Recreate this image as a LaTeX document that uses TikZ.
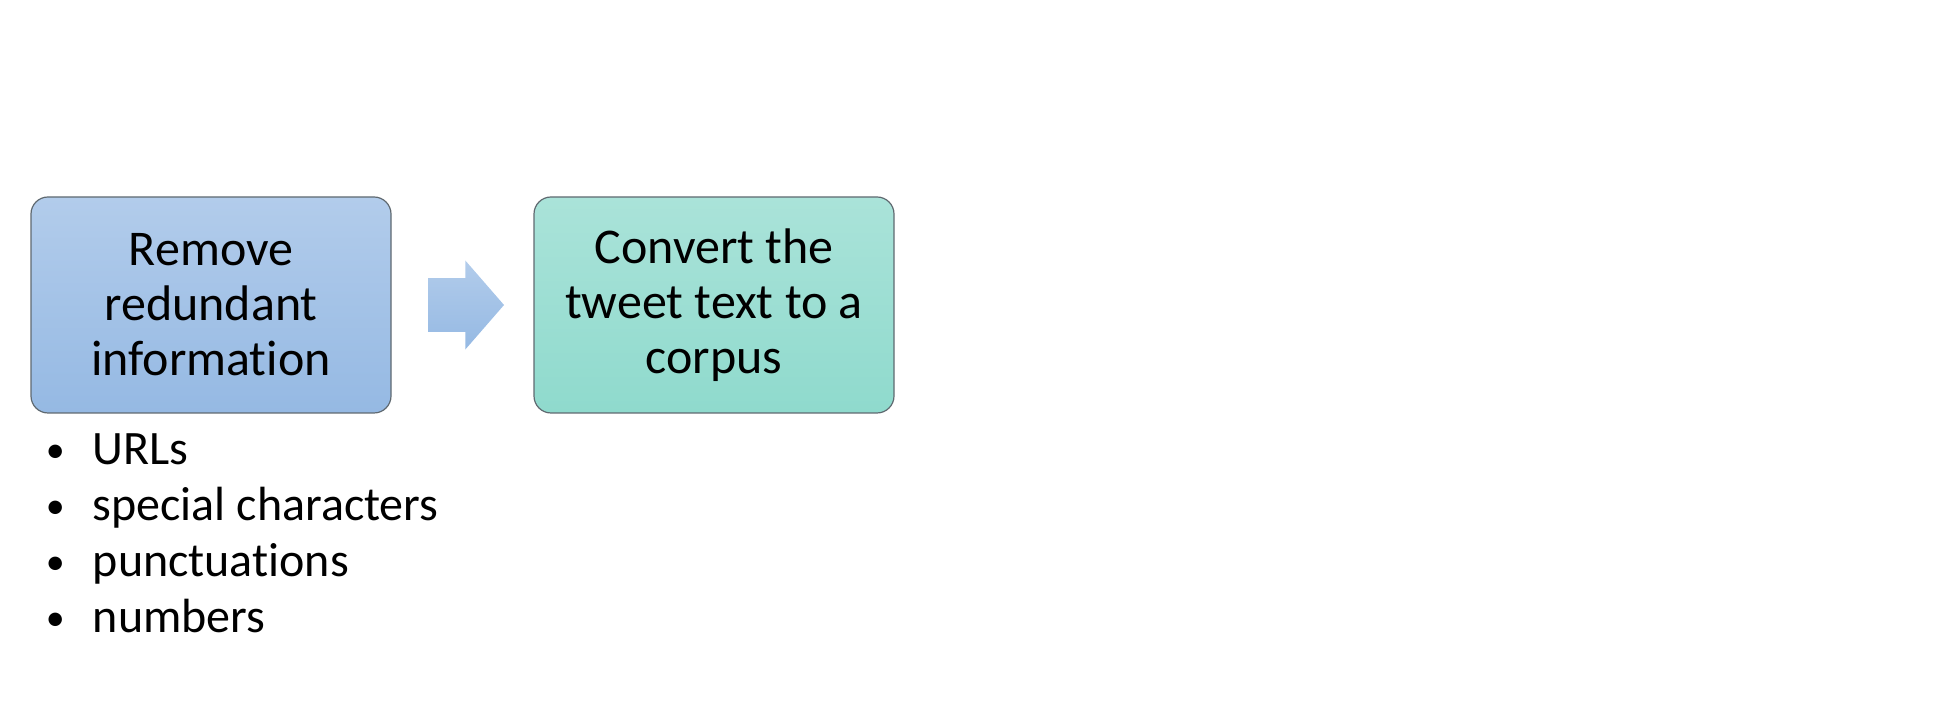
\documentclass[tikz,border=0pt]{standalone}
\usepackage{fontspec}
\setmainfont{Carlito}[Ligatures={NoCommon,NoContextual},Contextuals=NoAlternate]
\usetikzlibrary{positioning,shapes.arrows}

\definecolor{bluetop}{RGB}{178,204,235}
\definecolor{bluebottom}{RGB}{149,185,227}
\definecolor{greentop}{RGB}{170,227,217}
\definecolor{greenbottom}{RGB}{143,218,205}
\definecolor{boxline}{RGB}{95,105,112}

\newcommand{\listbullet}{\makebox[23.5pt][l]{\raisebox{1pt}{\fontsize{19}{19}\selectfont\textbullet}}}

\begin{document}
\begin{tikzpicture}[x=0.5pt,y=-0.5pt,
  stepbox/.style={draw=boxline, line width=0.6pt, rounded corners=8.5pt,
    minimum width=180pt, minimum height=108pt, inner sep=0pt,
    align=center, font=\fontsize{25}{27.5}\selectfont},
  steparrow/.style={shape=single arrow, single arrow head extend=8.75pt,
    single arrow tip angle=98, minimum height=38pt,
    inner xsep=0pt, inner ysep=13.25pt,
    top color=bluetop, bottom color=bluebottom},
  listtext/.style={anchor=north west, inner sep=0pt, align=left,
    font=\fontsize{24}{28}\selectfont}]

\useasboundingbox (0,0) rectangle (1943,704);

% Draw the two steps
\node[stepbox, top color=bluetop, bottom color=bluebottom] (remove) at (211,305)
  {Remove\\redundant\\information};
\node[stepbox, top color=greentop, bottom color=greenbottom] (convert) at (714,305)
  {Convert the\\tweet text to a\\corpus};

% Arrow between the steps
\node[steparrow, right=18pt of remove] (arrow) {};

% What gets removed
\node[listtext, below right=5.5pt and 7.5pt of remove.south west] (items)
  {\begin{tabular}{@{}l@{}}
   \listbullet URLs\\
   \listbullet special characters\\
   \listbullet punctuations\\
   \listbullet numbers
   \end{tabular}};

\end{tikzpicture}
\end{document}
